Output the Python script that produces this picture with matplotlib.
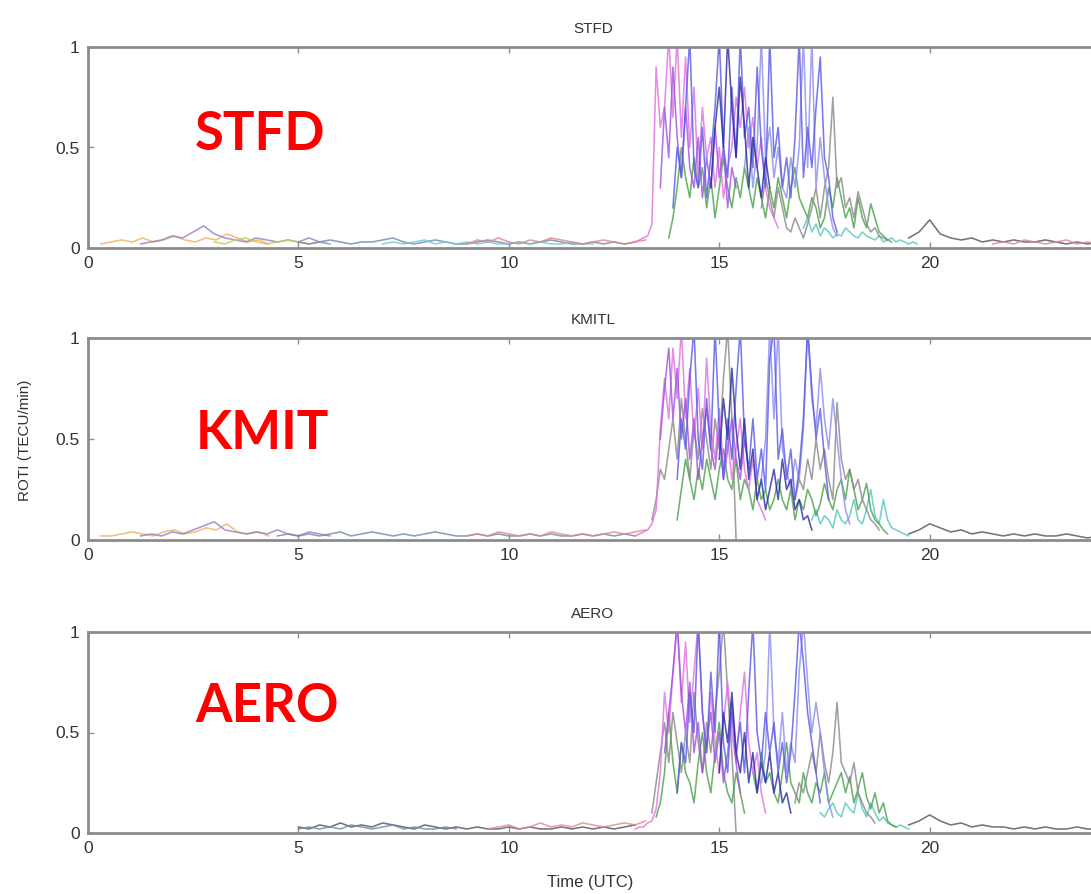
import numpy as np
import matplotlib
matplotlib.use("Agg")
import matplotlib.pyplot as plt

DT_Q = 0.25   # quiet-time samples
DT_A = 0.1    # storm-time samples

# ---------------- STFD ----------------
STFD_Q_ORANGE_T0 = 0.3
STFD_Q_ORANGE = [0.02, 0.03, 0.04, 0.03, 0.05, 0.03, 0.04, 0.06, 0.04, 0.03, 0.05, 0.04, 0.07, 0.05, 0.03, 0.04, 0.02]
STFD_Q_PURPLE_T0 = 1.25
STFD_Q_PURPLE = [0.02, 0.03, 0.04, 0.06, 0.05, 0.08, 0.11, 0.07, 0.05, 0.04, 0.03, 0.05, 0.04, 0.03, 0.04, 0.03, 0.05, 0.03, 0.02]
STFD_Q_YELLOW_T0 = 3.0
STFD_Q_YELLOW = [0.03, 0.02, 0.04, 0.05, 0.03, 0.02, 0.03, 0.04, 0.03, 0.02, 0.03]
STFD_Q_SLATE_T0 = 5.0
STFD_Q_SLATE = [0.03, 0.02, 0.03, 0.04, 0.03, 0.02, 0.03, 0.03, 0.04, 0.05, 0.03, 0.02, 0.03, 0.04, 0.03, 0.02, 0.02,
                0.03, 0.04, 0.03, 0.02, 0.03, 0.02, 0.03, 0.04, 0.03, 0.02, 0.02, 0.03, 0.02, 0.03, 0.02, 0.03]
STFD_Q_CYAN_T0 = 7.0
STFD_Q_CYAN = [0.02, 0.03, 0.02, 0.03, 0.04, 0.02, 0.03, 0.02, 0.03, 0.02, 0.03, 0.02, 0.02, 0.03, 0.02, 0.03, 0.02, 0.02, 0.03, 0.02, 0.02]
STFD_Q_RED_T0 = 9.0
STFD_Q_RED = [0.02, 0.04, 0.03, 0.05, 0.03, 0.02, 0.04, 0.03, 0.05, 0.04, 0.03, 0.02, 0.03, 0.04, 0.03, 0.02, 0.03, 0.04]
STFD_L_DARK_T0 = 19.5
STFD_L_DARK = [0.05, 0.08, 0.14, 0.07, 0.05, 0.04, 0.05, 0.03, 0.04, 0.03, 0.04, 0.03, 0.03, 0.04, 0.03, 0.02, 0.03, 0.02, 0.03]
STFD_L_RED_T0 = 21.5
STFD_L_RED = [0.02, 0.03, 0.02, 0.04, 0.03, 0.02, 0.03, 0.04, 0.02, 0.03, 0.02]

STFD_PINK_T0 = 13.0
STFD_PINK = [0.03, 0.04, 0.05, 0.06, 0.12, 0.9, 0.6, 0.7, 1.05, 0.65, 1.05, 0.55, 0.95, 0.5, 0.8, 0.35, 0.7, 0.45,
             0.55, 0.3, 0.5, 0.25, 0.4, 0.5, 0.75, 0.6, 0.8, 0.5, 0.65, 0.4, 0.55, 0.3, 0.2, 0.15, 0.1]
STFD_PURPLE_T0 = 13.6
STFD_PURPLE = [0.3, 0.7, 0.45, 0.9, 0.55, 0.35, 0.7, 0.4, 0.3, 0.55, 0.25, 0.45, 0.3, 0.6, 0.35, 0.5, 0.2, 0.4, 0.3]
STFD_BLUE_T0 = 13.9
STFD_BLUE = [0.2, 0.5, 0.35, 0.7, 1.05, 0.4, 0.3, 0.6, 0.25, 0.45, 0.7, 1.05, 0.5, 0.35, 0.8, 0.45, 1.05, 0.55, 0.7, 0.4,
             0.9, 0.5, 0.3, 1.05, 0.45, 0.6, 0.3, 0.45, 0.25, 0.55, 1.05, 0.35, 0.6, 0.4, 0.7, 0.95, 0.45, 0.35, 0.15, 0.08]
STFD_NAVY_T0 = 14.8
STFD_NAVY = [0.3, 0.6, 0.8, 0.5, 1.05, 0.7, 0.45, 0.85, 0.6, 0.3, 0.55, 0.4, 0.25, 0.45, 0.3]
STFD_LAV_T0 = 15.6
STFD_LAV = [0.4, 0.6, 0.3, 0.5, 1.05, 0.45, 0.6, 0.35, 0.5, 0.3, 0.25, 0.45, 0.3, 0.5, 1.05, 0.4, 1.05, 0.3, 0.55,
            0.35, 0.2, 0.1, 0.06]
STFD_GREEN_T0 = 13.8
STFD_GREEN = [0.05, 0.15, 0.3, 0.5, 0.35, 0.25, 0.45, 0.3, 0.4, 0.2, 0.35, 0.15, 0.3, 0.45, 0.3, 0.2, 0.35, 0.25, 0.4,
              0.3, 0.2, 0.35, 0.25, 0.15, 0.3, 0.2, 0.35, 0.25, 0.15, 0.3, 0.4, 0.25, 0.2, 0.15, 0.25, 0.2, 0.1, 0.15,
              0.3, 0.2, 0.35, 0.25, 0.15, 0.2, 0.1, 0.25, 0.15, 0.1, 0.22, 0.15, 0.08, 0.06, 0.04]
STFD_GRAY_T0 = 16.0
STFD_GRAY = [0.2, 0.35, 0.25, 0.15, 0.3, 0.2, 0.1, 0.08, 0.15, 0.1, 0.05, 0.12, 0.2, 0.3, 0.15, 0.3, 0.4, 0.75, 0.3,
             0.35, 0.2, 0.25, 0.15, 0.28, 0.2, 0.12, 0.08, 0.1, 0.06, 0.05, 0.04, 0.03]
STFD_TEAL_T0 = 17.0
STFD_TEAL = [0.1, 0.15, 0.08, 0.12, 0.06, 0.1, 0.08, 0.05, 0.07, 0.06, 0.1, 0.08, 0.06, 0.05, 0.08, 0.06, 0.05, 0.04,
             0.06, 0.03, 0.04, 0.05, 0.03, 0.04, 0.03, 0.02, 0.03, 0.02]

# ---------------- KMITL ----------------
KMITL_Q_ORANGE_T0 = 0.3
KMITL_Q_ORANGE = [0.02, 0.02, 0.03, 0.04, 0.03, 0.02, 0.04, 0.05, 0.03, 0.04, 0.06, 0.05, 0.08, 0.04, 0.03, 0.04, 0.02]
KMITL_Q_PURPLE_T0 = 1.25
KMITL_Q_PURPLE = [0.02, 0.03, 0.02, 0.04, 0.03, 0.05, 0.07, 0.09, 0.05, 0.04, 0.03, 0.04, 0.03, 0.05, 0.03, 0.02, 0.04, 0.03, 0.02]
KMITL_Q_SLATE_T0 = 4.5
KMITL_Q_SLATE = [0.02, 0.03, 0.02, 0.03, 0.02, 0.03, 0.04, 0.02, 0.03, 0.04, 0.03, 0.02, 0.03, 0.02, 0.03, 0.04, 0.03,
                 0.02, 0.02, 0.03, 0.02, 0.03, 0.02, 0.02, 0.03, 0.02, 0.03, 0.02, 0.02, 0.03, 0.02, 0.03, 0.02, 0.03, 0.02]
KMITL_Q_RED_T0 = 9.0
KMITL_Q_RED = [0.02, 0.03, 0.02, 0.04, 0.03, 0.02, 0.03, 0.02, 0.04, 0.03, 0.02, 0.03, 0.02, 0.03, 0.04, 0.03, 0.04, 0.05]
KMITL_L_DARK_T0 = 19.5
KMITL_L_DARK = [0.03, 0.05, 0.08, 0.06, 0.04, 0.05, 0.03, 0.04, 0.03, 0.02, 0.03, 0.02, 0.03, 0.02, 0.02, 0.03, 0.02, 0.01, 0.02]

KMITL_PINK_T0 = 13.0
KMITL_PINK = [0.02, 0.03, 0.04, 0.05, 0.08, 0.15, 0.55, 0.8, 0.6, 0.95, 0.7, 1.05, 0.6, 0.85, 0.5, 0.75, 0.45, 0.9, 0.55,
              0.4, 0.65, 0.35, 0.5, 0.3, 0.45, 0.6, 0.35, 0.25, 0.4, 0.2, 0.15, 0.1]
KMITL_PURPLE_T0 = 13.6
KMITL_PURPLE = [0.5, 0.75, 0.95, 0.6, 0.85, 0.5, 0.7, 0.4, 0.6, 0.3, 0.5, 0.65, 0.45, 0.35, 0.55, 0.3, 0.45, 0.6, 0.4, 0.3, 0.5, 0.35]
KMITL_DROP_T0 = 13.4
KMITL_DROP = [0.1, 0.2, 0.35, 0.3, 0.45, 0.6, 0.4, 0.7, 0.5, 0.3, 0.55, 0.4, 0.65, 0.5, 0.35, 0.6, 0.45, 0.8, 1.05, 0.6, 0.0]
KMITL_BLUE_T0 = 14.0
KMITL_BLUE = [0.3, 0.6, 0.45, 0.8, 1.05, 0.5, 0.35, 0.7, 0.45, 1.05, 0.55, 0.3, 0.6, 0.4, 0.75, 1.05, 0.5, 0.35, 0.6,
              0.3, 0.45, 0.25, 0.9, 1.05, 0.4, 0.55, 0.3, 0.45, 0.2, 0.35, 0.6, 1.05, 0.75, 0.5, 0.65, 0.4, 0.2]
KMITL_NAVY_T0 = 15.0
KMITL_NAVY = [0.4, 0.7, 0.5, 0.85, 0.55, 0.35, 0.6, 0.3, 0.45, 0.2, 0.3, 0.15, 0.25, 0.35, 0.2, 0.4, 0.25, 0.3, 0.15, 0.2, 0.1, 0.12, 0.05]
KMITL_LAV_T0 = 16.0
KMITL_LAV = [0.3, 0.5, 1.05, 0.6, 1.05, 0.45, 0.35, 0.25, 0.4, 0.3, 0.55, 1.05, 0.7, 0.55, 0.85, 0.6, 0.45, 0.7, 0.5, 0.3, 0.15, 0.08]
KMITL_GREEN_T0 = 14.0
KMITL_GREEN = [0.1, 0.25, 0.4, 0.3, 0.2, 0.35, 0.25, 0.4, 0.3, 0.2, 0.35, 0.45, 0.3, 0.25, 0.4, 0.2, 0.3, 0.25, 0.15, 0.3,
               0.2, 0.25, 0.15, 0.2, 0.3, 0.2, 0.15, 0.25, 0.1, 0.2, 0.15, 0.25, 0.2, 0.12, 0.18, 0.28, 0.2, 0.15, 0.25,
               0.3, 0.2, 0.35, 0.25, 0.15, 0.2, 0.28, 0.15, 0.1, 0.08, 0.05, 0.03]
KMITL_GRAY_T0 = 16.8
KMITL_GRAY = [0.2, 0.3, 0.25, 0.4, 0.3, 0.5, 0.35, 0.45, 0.3, 0.2, 0.68, 0.4, 0.3, 0.35, 0.25, 0.3, 0.2, 0.15, 0.1, 0.08, 0.05]
KMITL_TEAL_T0 = 17.2
KMITL_TEAL = [0.1, 0.15, 0.08, 0.12, 0.1, 0.06, 0.15, 0.1, 0.08, 0.12, 0.2, 0.1, 0.08, 0.15, 0.25, 0.12, 0.08, 0.2, 0.1,
              0.06, 0.05, 0.04, 0.03, 0.02]

# ---------------- AERO ----------------
AERO_Q_NAVY_T0 = 5.0
AERO_Q_NAVY = [0.03, 0.02, 0.04, 0.03, 0.05, 0.03, 0.04, 0.03, 0.05, 0.04, 0.03, 0.02, 0.04, 0.03, 0.02, 0.03, 0.02,
               0.03, 0.02, 0.02, 0.03, 0.02, 0.03, 0.02, 0.02, 0.03, 0.02, 0.03, 0.02, 0.03, 0.02, 0.03, 0.04]
AERO_Q_SLATE_T0 = 5.0
AERO_Q_SLATE = [0.02, 0.03, 0.02, 0.03, 0.02, 0.04, 0.03, 0.02, 0.03, 0.04, 0.02, 0.03, 0.02, 0.02, 0.03, 0.02]
AERO_Q_RED_T0 = 9.5
AERO_Q_RED = [0.02, 0.03, 0.04, 0.02, 0.03, 0.05, 0.03, 0.04, 0.03, 0.05, 0.04, 0.03, 0.04, 0.05, 0.04, 0.06]
AERO_L_DARK_T0 = 19.5
AERO_L_DARK = [0.04, 0.06, 0.09, 0.06, 0.04, 0.05, 0.03, 0.04, 0.03, 0.03, 0.02, 0.03, 0.02, 0.03, 0.02, 0.02, 0.03, 0.02, 0.02]

AERO_PINK_T0 = 13.0
AERO_PINK = [0.02, 0.03, 0.03, 0.05, 0.06, 0.12, 0.3, 0.7, 0.5, 0.8, 1.05, 0.65, 0.95, 0.55, 0.8, 1.05, 0.6, 0.4, 0.7,
             0.45, 0.3, 0.55, 0.75, 0.5, 0.35, 0.6, 0.8, 0.45, 0.3, 0.4, 0.2, 0.1]
AERO_PURPLE_T0 = 13.7
AERO_PURPLE = [0.4, 0.6, 0.8, 1.05, 0.7, 0.5, 0.75, 0.4, 0.55, 0.3, 0.45, 0.6, 0.35, 0.5, 0.25, 0.4, 0.6, 0.35, 0.2]
AERO_DROP_T0 = 13.4
AERO_DROP = [0.1, 0.25, 0.4, 0.55, 0.35, 0.6, 0.45, 0.3, 0.5, 0.35, 0.7, 0.45, 0.3, 0.55, 0.4, 0.6, 0.8, 1.05, 0.7, 0.4, 0.0]
AERO_GREEN1_T0 = 13.5
AERO_GREEN1 = [0.08, 0.15, 0.3, 0.6, 0.35, 0.2, 0.45, 0.3, 0.25, 0.15, 0.35, 0.5, 0.3, 0.2, 0.4, 0.55, 0.3, 0.2, 0.15, 0.3, 0.2, 0.1]
AERO_BLUE_T0 = 14.0
AERO_BLUE = [0.2, 0.45, 0.35, 0.7, 0.5, 1.05, 0.6, 0.4, 0.8, 0.5, 1.05, 0.45, 0.3, 0.65, 0.4, 0.55, 0.3, 0.7, 1.05, 0.5,
             0.35, 0.6, 0.4, 0.55, 0.3, 0.45, 0.25, 0.4, 0.7, 1.05, 0.85, 0.6, 0.45, 0.3, 0.15]
AERO_NAVY_T0 = 15.0
AERO_NAVY = [0.3, 0.6, 0.45, 0.7, 0.4, 0.3, 0.5, 0.25, 0.4, 0.2, 0.35, 0.25, 0.4, 0.2, 0.3, 0.15, 0.2, 0.1]
AERO_LAV_T0 = 16.0
AERO_LAV = [0.25, 0.4, 1.05, 0.5, 0.35, 0.6, 0.3, 0.45, 0.35, 0.8, 1.05, 0.75, 0.5, 0.65, 0.5, 0.3, 0.15, 0.08]
AERO_GREEN_T0 = 15.8
AERO_GREEN = [0.3, 0.2, 0.4, 0.25, 0.3, 0.2, 0.15, 0.3, 0.45, 0.25, 0.2, 0.15, 0.3, 0.2, 0.15, 0.25, 0.2, 0.3, 0.15,
              0.2, 0.25, 0.3, 0.2, 0.28, 0.15, 0.22, 0.3, 0.18, 0.12, 0.2, 0.1, 0.15, 0.06, 0.04, 0.03]
AERO_GRAY_T0 = 16.8
AERO_GRAY = [0.15, 0.25, 0.2, 0.3, 0.4, 0.3, 0.5, 0.35, 0.25, 0.4, 0.65, 0.35, 0.3, 0.25, 0.35, 0.2, 0.15, 0.1, 0.08, 0.05]
AERO_TEAL_T0 = 17.4
AERO_TEAL = [0.1, 0.08, 0.12, 0.15, 0.1, 0.08, 0.15, 0.12, 0.1, 0.2, 0.12, 0.08, 0.15, 0.1, 0.06, 0.08, 0.05, 0.04,
             0.03, 0.04, 0.03, 0.02]

# colours (washed-out MATLAB-like)
C_ORANGE = "#f0b060"
C_YELLOW = "#c8c860"
C_PURPLE = "#9080c0"
C_SLATE = "#7088a8"
C_CYAN = "#70c8d8"
C_RED = "#e08888"
C_DARK = "#505068"
C_PINK = "#e070e0"
C_MAG = "#a050e0"
C_BLUE = "#5858e8"
C_NAVY = "#2828a0"
C_LAV = "#8c8cf0"
C_GREEN = "#48a048"
C_GRAY = "#888888"
C_TEAL = "#50c8b8"

panels = [
    ("STFD", "STFD", 0.49, [
        (STFD_Q_ORANGE_T0, DT_Q, STFD_Q_ORANGE, C_ORANGE),
        (STFD_Q_PURPLE_T0, DT_Q, STFD_Q_PURPLE, C_PURPLE),
        (STFD_Q_YELLOW_T0, DT_Q, STFD_Q_YELLOW, C_YELLOW),
        (STFD_Q_SLATE_T0, DT_Q, STFD_Q_SLATE, C_SLATE),
        (STFD_Q_CYAN_T0, DT_Q, STFD_Q_CYAN, C_CYAN),
        (STFD_Q_RED_T0, DT_Q, STFD_Q_RED, C_RED),
        (STFD_L_DARK_T0, DT_Q, STFD_L_DARK, C_DARK),
        (STFD_L_RED_T0, DT_Q, STFD_L_RED, C_RED),
        (STFD_TEAL_T0, DT_A, STFD_TEAL, C_TEAL),
        (STFD_GREEN_T0, DT_A, STFD_GREEN, C_GREEN),
        (STFD_GRAY_T0, DT_A, STFD_GRAY, C_GRAY),
        (STFD_PINK_T0, DT_A, STFD_PINK, C_PINK),
        (STFD_PURPLE_T0, DT_A, STFD_PURPLE, C_MAG),
        (STFD_LAV_T0, DT_A, STFD_LAV, C_LAV),
        (STFD_BLUE_T0, DT_A, STFD_BLUE, C_BLUE),
        (STFD_NAVY_T0, DT_A, STFD_NAVY, C_NAVY),
    ]),
    ("KMITL", "KMIT", 0.45, [
        (KMITL_Q_ORANGE_T0, DT_Q, KMITL_Q_ORANGE, C_ORANGE),
        (KMITL_Q_PURPLE_T0, DT_Q, KMITL_Q_PURPLE, C_PURPLE),
        (KMITL_Q_SLATE_T0, DT_Q, KMITL_Q_SLATE, C_SLATE),
        (KMITL_Q_RED_T0, DT_Q, KMITL_Q_RED, C_RED),
        (KMITL_L_DARK_T0, DT_Q, KMITL_L_DARK, C_DARK),
        (KMITL_TEAL_T0, DT_A, KMITL_TEAL, C_TEAL),
        (KMITL_GREEN_T0, DT_A, KMITL_GREEN, C_GREEN),
        (KMITL_GRAY_T0, DT_A, KMITL_GRAY, C_GRAY),
        (KMITL_DROP_T0, DT_A, KMITL_DROP, C_GRAY),
        (KMITL_PINK_T0, DT_A, KMITL_PINK, C_PINK),
        (KMITL_PURPLE_T0, DT_A, KMITL_PURPLE, C_MAG),
        (KMITL_LAV_T0, DT_A, KMITL_LAV, C_LAV),
        (KMITL_BLUE_T0, DT_A, KMITL_BLUE, C_BLUE),
        (KMITL_NAVY_T0, DT_A, KMITL_NAVY, C_NAVY),
    ]),
    ("AERO", "AERO", 0.55, [
        (AERO_Q_NAVY_T0, DT_Q, AERO_Q_NAVY, C_DARK),
        (AERO_Q_SLATE_T0, DT_Q, AERO_Q_SLATE, C_SLATE),
        (AERO_Q_RED_T0, DT_Q, AERO_Q_RED, C_RED),
        (AERO_L_DARK_T0, DT_Q, AERO_L_DARK, C_DARK),
        (AERO_TEAL_T0, DT_A, AERO_TEAL, C_TEAL),
        (AERO_GREEN_T0, DT_A, AERO_GREEN, C_GREEN),
        (AERO_GRAY_T0, DT_A, AERO_GRAY, C_GRAY),
        (AERO_DROP_T0, DT_A, AERO_DROP, C_GRAY),
        (AERO_GREEN1_T0, DT_A, AERO_GREEN1, C_GREEN),
        (AERO_PINK_T0, DT_A, AERO_PINK, C_PINK),
        (AERO_PURPLE_T0, DT_A, AERO_PURPLE, C_MAG),
        (AERO_LAV_T0, DT_A, AERO_LAV, C_LAV),
        (AERO_BLUE_T0, DT_A, AERO_BLUE, C_BLUE),
        (AERO_NAVY_T0, DT_A, AERO_NAVY, C_NAVY),
    ]),
]

XTICKS = [0, 5, 10, 15, 20]
YTICKS = [0, 0.5, 1]
YTICKLABELS = ["0", "0.5", "1"]

W, H = 1091, 894
fig = plt.figure(figsize=(W / 100, H / 100), dpi=100)
plt.rcParams['font.family'] = ['Liberation Sans', 'DejaVu Sans']

ax_left = 88 / W
ax_width = 1010 / W          # 24 h span runs a bit past the right edge, as in the source
tops = [47, 338, 632]
bottoms = [248, 540, 833]

for (title, label, label_y, series), top, bot in zip(panels, tops, bottoms):
    ax = fig.add_axes([ax_left, 1 - bot / H, ax_width, (bot - top) / H])
    for t0, dt, vals, col in series:
        t = t0 + dt * np.arange(len(vals))
        ax.plot(t, vals, color=col, lw=1.15, alpha=0.8)
    ax.set_xlim(0, 24)
    ax.set_ylim(0, 1)
    ax.set_xticks(XTICKS)
    ax.set_yticks(YTICKS)
    ax.set_yticklabels(YTICKLABELS)
    ax.tick_params(direction='in', top=True, right=True, length=4, width=1,
                   colors='#909090', labelcolor='#333333', labelsize=12.5, pad=6)
    for sp in ax.spines.values():
        sp.set_color('#8c8c8c')
        sp.set_linewidth(2)
    ax.set_title(title, fontsize=11, color='#333333', pad=10)
    ax.text(2.55, label_y, label, color='#ff0000', fontsize=38, fontweight='bold',
            family=['Lato', 'DejaVu Sans'], ha='left', va='baseline')

fig.text(25 / W, 1 - 440 / H, "ROTI (TECU/min)", rotation=90, ha='center', va='center',
         fontsize=11, color='#333333')
fig.text(590 / W, 1 - 882 / H, "Time (UTC)", ha='center', va='center', fontsize=12, color='#333333')

fig.savefig("out.png", dpi=100)
